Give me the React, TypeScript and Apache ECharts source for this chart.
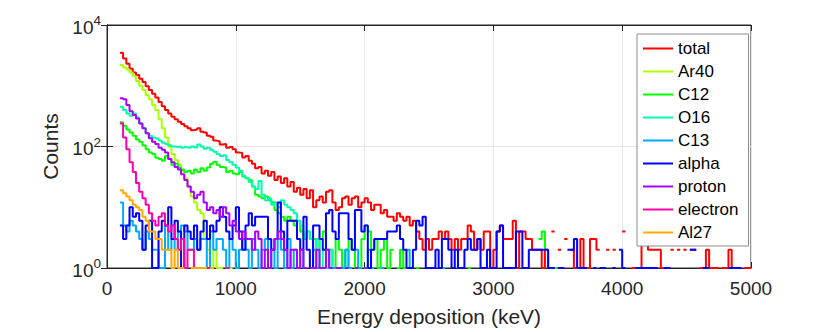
import React, { useEffect, useRef } from 'react';
import * as echarts from 'echarts';

// Histogram bins: left edge of first bin and bin width (keV)
const BIN_START = 100;
const BIN_WIDTH = 25;

const seriesNames = ['total', 'Ar40', 'C12', 'O16', 'C13', 'alpha', 'proton', 'electron', 'Al27'];
const seriesColors = ['#ff0000', '#aaff00', '#00ff00', '#00ffaa', '#00aaff', '#0000ff', '#aa00ff', '#ff00aa', '#ffaa00'];

// counts per bin (0 = empty bin)
const total = [
  3500, 2800, 2300, 1900, 1650, 1500, 1300, 1150, 980, 850,
  740, 640, 540, 460, 400, 350, 310, 280, 255, 235,
  215, 200, 185, 190, 200, 175, 170, 150, 145, 125,
  122, 108, 110, 95, 98, 90, 80, 78, 66, 70,
  58, 52, 44, 46, 36, 40, 33, 38, 28, 32,
  25, 30, 22, 26, 18, 21, 16, 20, 14, 19,
  10, 13, 15, 12, 18, 19, 12, 9, 10, 14,
  15, 11, 14, 15, 10, 12, 14, 12, 9, 11,
  11, 8, 9, 7, 7, 6, 8, 7, 6, 7,
  5, 6, 4, 3, 2, 3, 2, 3, 3, 4,
  3, 4, 3, 2, 3, 2, 3, 3, 5, 4,
  2, 3, 2, 4, 4, 1, 2, 4, 5, 3,
  3, 3, 6, 1, 4, 4, 3, 3, 2, 2,
  2, 1, 2, 0, 4, 0, 2, 0, 3, 0,
  2, 1, 1, 3, 1, 1, 3, 3, 2, 0,
  0, 2, 0, 2, 0, 0, 4, 0, 0, 1,
  1, 1, 5, 4, 2, 2, 2, 2, 1, 1,
  0, 2, 0, 2, 0, 2, 0, 2, 2, 0,
  1, 1, 2, 1, 1, 1, 0, 1, 1, 2,
  1, 1, 1, 0, 1, 1,
];
const ar40 = [
  2200, 2000, 1850, 1650, 1450, 1200, 1000, 850, 700, 600,
  480, 400, 280, 200, 140, 100, 75, 60, 50, 40,
  30, 22, 15, 12, 9, 8, 3, 2, 1, 2,
  1, 1, 0, 1, 1, 0, 1,
];
const c12 = [
  250, 220, 190, 170, 150, 130, 120, 105, 90, 80,
  75, 65, 62, 58, 70, 62, 50, 52, 45, 42,
  38, 40, 36, 42, 38, 44, 40, 45, 52, 56,
  50, 46, 45, 38, 40, 36, 35, 38, 32, 30,
  28, 22, 16, 15, 14, 15, 13, 12, 9, 8,
  7, 6, 7, 6, 5, 6, 4, 3, 4, 3,
  3, 2, 3, 4, 2, 2, 1, 3, 2, 1,
  2, 3, 2, 1, 1, 3, 5, 4, 2, 3,
  1, 2, 3, 1, 2, 0, 1, 2, 1, 0,
  1, 0, 1, 0, 0, 1, 0, 0, 0, 0,
  0, 0, 0, 0, 0, 0, 0, 0, 1, 0,
  0, 0, 0, 0, 0, 0, 0, 0, 0, 0,
  0, 0, 0, 0, 0, 0, 0, 0, 0, 0,
  3, 4, 2, 1, 0, 1,
];
const o16 = [
  450, 400, 350, 320, 350, 300, 240, 200, 165, 150,
  140, 135, 125, 115, 110, 105, 100, 98, 100, 95,
  98, 95, 100, 96, 108, 100, 92, 95, 88, 82,
  75, 70, 72, 60, 55, 50, 45, 40, 33, 30,
  26, 22, 20, 27, 16, 13, 14, 11, 12, 10,
  13, 11, 10, 9, 8, 6, 5, 3, 4, 3,
  2, 3, 1, 2, 1, 2, 1, 1, 0, 1,
  2, 1, 0, 1, 0, 0, 1, 0, 0, 0,
  0, 0, 0, 0, 0, 0, 0, 0, 0, 1,
  1,
];
const c13 = [
  12, 5, 4, 6, 5, 4, 3, 2, 4, 3,
  2, 2, 1, 1, 5, 2, 3, 2, 4, 5,
  4, 2, 2, 3, 2, 3, 3, 1, 4, 2,
  3, 3, 2, 1, 3, 2, 1, 2, 3, 2,
  1, 3, 2, 1, 2, 3, 1, 2, 1, 3,
  2, 1, 3, 1, 2, 1, 2, 1, 0, 1,
  2, 1, 1, 0, 2, 1, 1, 0, 1, 1,
  2, 1, 0, 2, 1, 0, 1, 2, 1, 0,
  0, 1, 0, 0, 0, 0, 0, 0, 0, 2,
  1, 0, 0, 0, 0, 0, 0, 0, 0, 1,
  1, 0, 0, 0, 0, 0, 0, 0, 0, 0,
  0, 0, 0, 1,
];
const alpha = [
  5, 3, 5, 10, 7, 8, 6, 2, 5, 6,
  1, 1, 4, 6, 5, 10, 3, 6, 4, 1,
  5, 4, 3, 5, 2, 4, 6, 3, 5, 4,
  6, 10, 7, 4, 3, 5, 10, 4, 2, 5,
  8, 5, 7, 7, 7, 7, 3, 2, 3, 12,
  4, 2, 6, 6, 6, 3, 2, 7, 2, 1,
  5, 5, 3, 2, 8, 9, 4, 3, 8, 8,
  8, 3, 2, 9, 9, 4, 5, 1, 2, 3,
  3, 3, 3, 4, 4, 4, 5, 3, 2, 1,
  1, 2, 6, 5, 7, 1, 1, 1, 2, 1,
  3, 3, 2, 1, 2, 1, 1, 2, 3, 2,
  2, 3, 1, 1, 2, 1, 1, 4, 5, 1,
  1, 1, 1, 4, 4, 1, 1, 2, 2, 2,
  2, 2, 2, 1, 1, 0, 1, 1, 0, 2,
  2, 3, 1, 1, 1, 0, 0, 1, 0, 1,
  1, 0, 0, 1, 0, 2, 1, 0, 0, 0,
  1, 1, 1, 1, 1, 1, 1, 0, 0, 1,
  1, 0, 0, 0, 0, 0, 0, 2, 2, 0,
  0, 1, 1, 0, 0, 0, 0, 0, 0, 1,
  1, 1, 1, 0,
];
const proton = [
  620, 600, 480, 380, 330, 290, 240, 200, 165, 137,
  120, 110, 95, 88, 80, 62, 55, 46, 42, 35,
  28, 22, 18, 14, 16, 18, 12, 9, 10, 8,
  9, 7, 10, 8, 5, 6, 4, 3, 4, 3,
  3, 2, 4, 3, 1, 2, 1, 2, 3, 4,
  3, 2, 1, 2, 2, 1, 2, 1, 0, 1,
  1, 2, 1, 1, 2, 1, 0, 1, 1, 0,
  1, 0, 0, 1, 0, 0, 1,
];
const electron = [
  240, 140, 90, 55, 38, 25, 18, 14, 11, 8,
  6, 5, 7, 8, 5, 4, 5, 3, 2, 3,
  1, 2, 2, 1, 0, 1, 0, 1, 1, 0,
  0, 0, 0, 1,
];
const al27 = [
  19, 17, 15, 13, 11, 10, 9, 7, 6, 4,
  4, 3, 3, 2, 2, 2, 1, 2, 1, 1,
  0, 0, 1, 1, 1, 1, 1, 0, 1,
];

const seriesCounts = [total, ar40, c12, o16, c13, alpha, proton, electron, al27];

const xTicks = { min: 0, max: 5000, interval: 1000 };
const yRange = { min: 1, max: 10000 };

const FONT = 'Liberation Sans, Arial, Helvetica, sans-serif';
const AXIS_COLOR = '#262626';
const GRID_COLOR = '#e6e6e6';

function buildSteps(counts: number[]) {
  const pts: (number | null)[][] = [];
  counts.forEach((v, i) => {
    const x0 = BIN_START + i * BIN_WIDTH;
    if (v > 0) {
      pts.push([x0, v], [x0 + BIN_WIDTH, v]);
    } else if (pts.length && pts[pts.length - 1][1] !== null) {
      pts.push([x0, null]);
    }
  });
  return pts;
}

export default function App() {
  const ref = useRef<HTMLDivElement>(null);

  useEffect(() => {
    if (!ref.current) return;
    const chart = echarts.init(ref.current, undefined, { renderer: 'svg' });

    const logLabel = (v: number) => `{b|10}{e|${Math.round(Math.log10(v))}}`;

    chart.setOption({
      animation: false,
      grid: {
        left: 107,
        right: 79,
        top: 25,
        bottom: 60,
        show: true,
        borderColor: AXIS_COLOR,
        borderWidth: 1,
        backgroundColor: '#ffffff',
      },
      legend: {
        data: seriesNames,
        orient: 'vertical',
        left: 637,
        top: 34,
        icon: 'rect',
        itemWidth: 30,
        itemHeight: 2,
        itemGap: 6,
        padding: [6, 10, 5, 6],
        backgroundColor: '#ffffff',
        borderColor: '#8c8c8c',
        borderWidth: 1,
        borderRadius: 0,
        selectedMode: false,
        textStyle: { fontSize: 17, color: '#000000', fontFamily: FONT },
      },
      xAxis: [
        {
          type: 'value',
          min: xTicks.min,
          max: xTicks.max,
          interval: xTicks.interval,
          position: 'bottom',
          name: 'Energy deposition (keV)',
          nameLocation: 'middle',
          nameGap: 38,
          nameTextStyle: { fontSize: 21, color: AXIS_COLOR, fontFamily: FONT },
          axisLine: { show: true, lineStyle: { color: AXIS_COLOR, width: 1 } },
          axisTick: { show: true, inside: true, length: 6, lineStyle: { color: AXIS_COLOR } },
          axisLabel: {
            fontSize: 19,
            color: AXIS_COLOR,
            fontFamily: FONT,
            margin: 11,
            showMinLabel: true,
            showMaxLabel: true,
            formatter: (v: number) => String(v),
          },
          splitLine: { show: true, lineStyle: { color: GRID_COLOR, width: 1 } },
        },
        {
          type: 'value',
          min: xTicks.min,
          max: xTicks.max,
          interval: xTicks.interval,
          position: 'top',
          axisLine: { show: true, lineStyle: { color: AXIS_COLOR, width: 1 } },
          axisTick: { show: true, inside: true, length: 6, lineStyle: { color: AXIS_COLOR } },
          axisLabel: { show: false },
          splitLine: { show: false },
        },
      ],
      yAxis: [
        {
          type: 'log',
          logBase: 10,
          min: yRange.min,
          max: yRange.max,
          interval: 2,
          position: 'left',
          name: 'Counts',
          nameLocation: 'middle',
          nameGap: 40,
          nameTextStyle: { fontSize: 21, color: AXIS_COLOR, fontFamily: FONT },
          axisLine: { show: true, lineStyle: { color: AXIS_COLOR, width: 1 } },
          axisTick: { show: true, inside: true, length: 6, lineStyle: { color: AXIS_COLOR } },
          axisLabel: {
            margin: 6,
            formatter: logLabel,
            rich: {
              b: { fontSize: 19, color: AXIS_COLOR, fontFamily: FONT, verticalAlign: 'bottom' },
              e: { fontSize: 13.5, color: AXIS_COLOR, fontFamily: FONT, verticalAlign: 'top', padding: [0, 0, 9, 0] },
            },
          },
          splitLine: { show: true, lineStyle: { color: GRID_COLOR, width: 1 } },
        },
        {
          type: 'log',
          logBase: 10,
          min: yRange.min,
          max: yRange.max,
          interval: 2,
          position: 'right',
          axisLine: { show: true, lineStyle: { color: AXIS_COLOR, width: 1 } },
          axisTick: { show: true, inside: true, length: 6, lineStyle: { color: AXIS_COLOR } },
          axisLabel: { show: false },
          splitLine: { show: false },
        },
      ],
      series: seriesNames.map((name, k) => ({
        name,
        type: 'line',
        xAxisIndex: 0,
        yAxisIndex: 0,
        data: buildSteps(seriesCounts[k]),
        color: seriesColors[k],
        showSymbol: false,
        symbol: 'none',
        connectNulls: false,
        clip: true,
        silent: true,
        lineStyle: { color: seriesColors[k], width: 2 },
      })),
    });

    return () => chart.dispose();
  }, []);

  return (
    <div
      ref={ref}
      style={{ position: 'absolute', left: 0, top: 0, width: 830, height: 332, background: '#ffffff' }}
    />
  );
}
